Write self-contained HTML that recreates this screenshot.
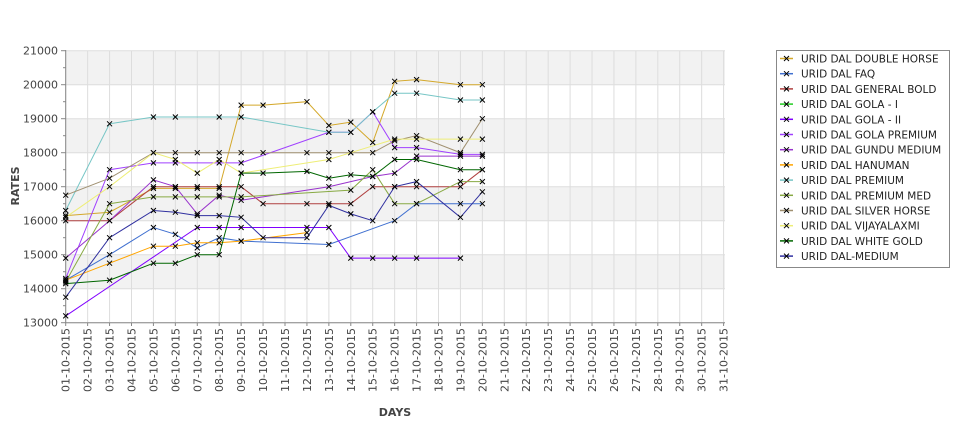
<!DOCTYPE html><html><head><style>body{margin:0;background:#fff}svg{font-family:"DejaVu Sans",sans-serif}</style></head><body>
<svg id="s" width="975" height="429" xmlns="http://www.w3.org/2000/svg"></svg>
<script>
const s=document.getElementById('s');let h='';
const X=d=>65.7+21.93*(d-1),Y=v=>322.7-(v-13000)*0.034;
[[20000,21000],[18000,19000],[16000,17000],[14000,15000]].forEach(b=>{h+=`<rect x="65.7" y="${Y(b[1])}" width="659.3" height="34" fill="#f2f2f2"/>`});
for(let d=1;d<=31;d++)h+=`<line x1="${X(d)}" y1="50.7" x2="${X(d)}" y2="322.7" stroke="#ddd"/>`;
for(let v=13000;v<=21000;v+=1000){h+=`<line x1="65.7" y1="${Y(v)}" x2="725" y2="${Y(v)}" stroke="#ddd"/><line x1="61" y1="${Y(v)}" x2="65.7" y2="${Y(v)}" stroke="#888"/><text x="58" y="${Y(v)+4}" font-size="11" fill="#444" text-anchor="end">${v}</text>`;
 if(v<21000)h+=`<line x1="63" y1="${Y(v+500)}" x2="65.7" y2="${Y(v+500)}" stroke="#888"/>`;}
h+=`<line x1="65.7" y1="50" x2="65.7" y2="323" stroke="#888"/><line x1="65.7" y1="322.7" x2="725" y2="322.7" stroke="#888"/>`;
for(let d=1;d<=31;d++){const t=(d<10?'0':'')+d+'-10-2015';h+=`<line x1="${X(d)}" y1="322.7" x2="${X(d)}" y2="326" stroke="#888"/><text transform="translate(${X(d)+4},328) rotate(-90)" font-size="11" fill="#444" text-anchor="end">${t}</text>`;}
h+=`<text x="395" y="416" font-size="11" font-weight="bold" fill="#444" text-anchor="middle">DAYS</text><text transform="translate(19,186) rotate(-90)" font-size="11" font-weight="bold" fill="#444" text-anchor="middle">RATES</text>`;
const S=[
['URID DAL DOUBLE HORSE','#d4a82a',[[1,16150],[3,16250],[5,16950],[6,16950],[7,16950],[8,16950],[9,19400],[10,19400],[12,19500],[13,18800],[14,18900],[15,18300],[16,20100],[17,20150],[19,20000],[20,20000]]],
['URID DAL FAQ','#4070d0',[[1,14250],[3,15000],[5,15800],[6,15600],[7,15200],[8,15500],[9,15400],[13,15300],[16,16000],[17,16500],[19,16500],[20,16500]]],
['URID DAL GENERAL BOLD','#b04040',[[1,16000],[3,16000],[5,17000],[6,17000],[7,17000],[8,17000],[9,17000],[10,16500],[12,16500],[13,16500],[14,16500],[15,17000],[16,17000],[17,17000],[19,17000],[20,17500]]],
['URID DAL GOLA - I','#22cc22',[]],
['URID DAL GOLA - II','#8000ff',[[1,13200],[7,15800],[8,15800],[9,15800],[12,15800],[13,15800],[14,14900],[15,14900],[16,14900],[17,14900],[19,14900]]],
['URID DAL GOLA PREMIUM','#a040ff',[[1,14300],[3,17500],[5,17700],[6,17700],[8,17700],[9,17700],[13,18600],[14,18600],[15,19200],[16,18150],[17,18150],[19,17950],[20,17950]]],
['URID DAL GUNDU MEDIUM','#9933cc',[[1,14900],[3,16000],[5,17200],[6,17000],[7,16200],[8,16750],[9,16600],[13,17000],[15,17300],[16,17400],[17,17900],[19,17900],[20,17900]]],
['URID DAL HANUMAN','#ffa500',[[1,14250],[3,14750],[5,15250],[6,15250],[7,15350],[8,15350],[9,15400],[12,15650]]],
['URID DAL PREMIUM','#77c6c6',[[1,16300],[3,18850],[5,19050],[6,19050],[8,19050],[9,19050],[13,18600],[14,18600],[15,19200],[16,19750],[17,19750],[19,19550],[20,19550]]],
['URID DAL PREMIUM MED','#88aa44',[[1,14200],[3,16500],[5,16700],[6,16700],[7,16700],[8,16700],[9,16700],[14,16900],[15,17500],[16,16500],[17,16500],[19,17150],[20,17150]]],
['URID DAL SILVER HORSE','#a09070',[[1,16750],[3,17250],[5,18000],[6,18000],[7,18000],[8,18000],[9,18000],[10,18000],[12,18000],[13,18000],[14,18000],[15,18000],[16,18350],[17,18500],[19,18000],[20,19000]]],
['URID DAL VIJAYALAXMI','#eeee77',[[1,16100],[3,17000],[5,18000],[6,17800],[7,17400],[8,17800],[9,17400],[13,17800],[14,18000],[16,18400],[17,18400],[19,18400],[20,18400]]],
['URID DAL WHITE GOLD','#006600',[[1,14150],[3,14250],[5,14750],[6,14750],[7,15000],[8,15000],[9,17400],[10,17400],[12,17450],[13,17250],[14,17350],[15,17300],[16,17800],[17,17800],[19,17500],[20,17500]]],
['URID DAL-MEDIUM','#3030a0',[[1,13750],[3,15500],[5,16300],[6,16250],[7,16150],[8,16150],[9,16100],[10,15500],[12,15500],[13,16450],[14,16200],[15,16000],[16,17000],[17,17150],[19,16100],[20,16850]]]];
const xm=(x,y)=>`<path d="M${x-2.5} ${y-2.5}L${x+2.5} ${y+2.5}M${x-2.5} ${y+2.5}L${x+2.5} ${y-2.5}" stroke="#000" stroke-width="1"/>`;
S.forEach(q=>{if(q[2].length)h+=`<polyline fill="none" stroke="${q[1]}" stroke-width="1" points="${q[2].map(p=>X(p[0])+','+Y(p[1])).join(' ')}"/>`});
S.forEach(q=>q[2].forEach(p=>h+=xm(X(p[0]),Y(p[1]))));
h+=`<rect x="776.5" y="50.5" width="173" height="217" fill="#fff" stroke="#888"/>`;
S.forEach((q,i)=>{const y=58.5+i*15.2;h+=`<line x1="780" y1="${y}" x2="793" y2="${y}" stroke="${q[1]}" stroke-width="1.5"/>`+xm(786.5,y)+`<text x="801" y="${y+4}" font-size="10.5" fill="#222">${q[0]}</text>`});
s.innerHTML=h;
</script></body></html>
